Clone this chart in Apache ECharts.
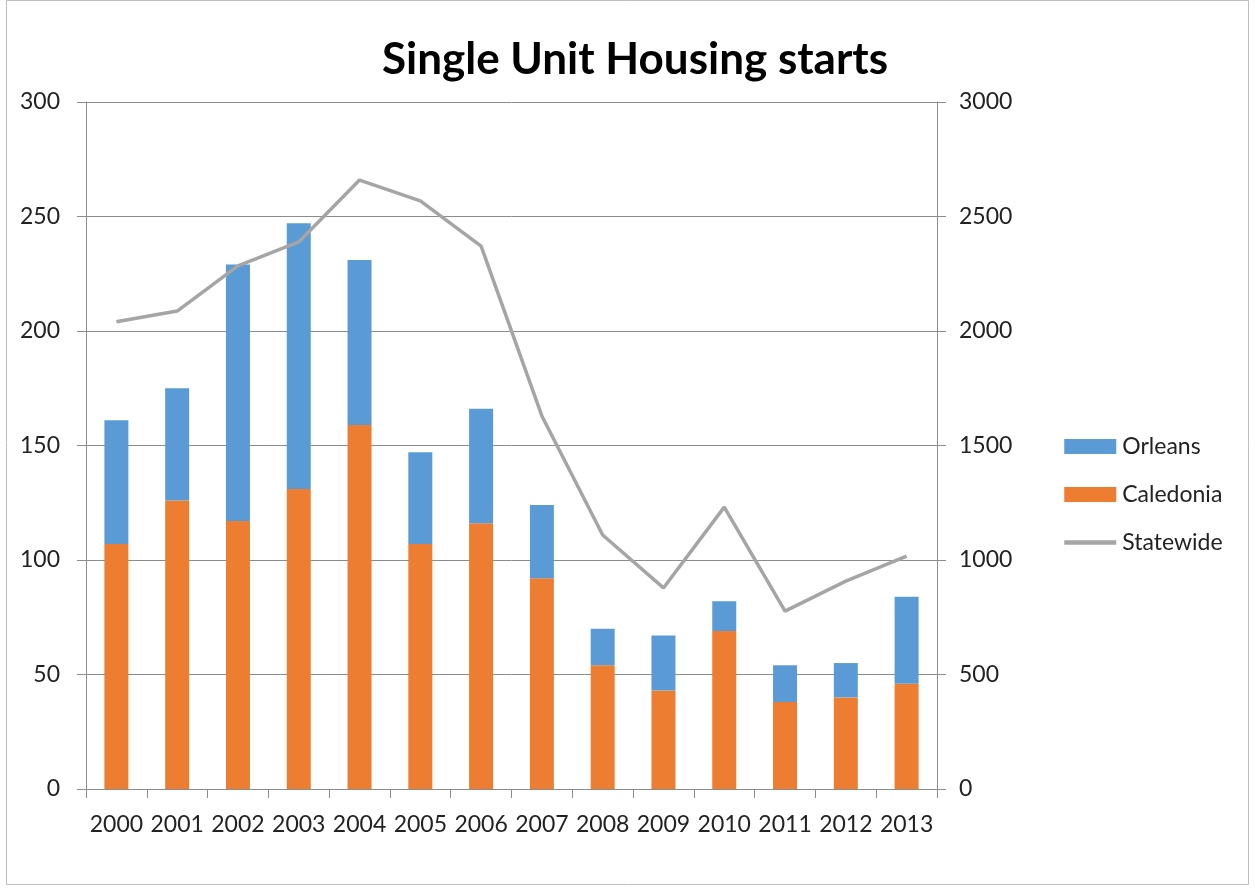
<!DOCTYPE html>
<html>
<head>
<meta charset="utf-8">
<script src="https://cdn.jsdelivr.net/npm/echarts@6/dist/echarts.min.js"></script>
<style>
  html, body { margin: 0; padding: 0; background: #fff; }
  #chart { width: 1255px; height: 892px; }
</style>
</head>
<body>
<div id="chart"></div>
<script>
const years = ['2000', '2001', '2002', '2003', '2004', '2005', '2006', '2007', '2008', '2009', '2010', '2011', '2012', '2013']
const caledonia = [107, 126, 117, 131, 159, 107, 116, 92, 54, 43, 69, 38, 40, 46]
const orleans = [54, 49, 112, 116, 72, 40, 50, 32, 16, 24, 13, 16, 15, 38]
const statewide = [2040, 2087, 2284, 2389, 2659, 2568, 2371, 1629, 1109, 878, 1231, 777, 908, 1017]

const FONT = 'Lato, "Open Sans", sans-serif'
const GRID_COLOR = '#8c8c8c'
const LABEL_SIZE = 23

const chart = echarts.init(document.getElementById('chart'))

chart.setOption({
  animation: false,
  title: {
    text: 'Single Unit Housing starts',
    left: 630,
    textAlign: 'center',
    top: 33,
    textStyle: { fontFamily: FONT, fontSize: 44, fontWeight: 'bold', color: '#000' }
  },
  graphic: [{
    type: 'rect',
    shape: { x: 6.5, y: 0.5, width: 1242, height: 884 },
    style: { fill: 'none', stroke: '#bdbdbd', lineWidth: 1 },
    silent: true
  }],
  grid: { left: 86, right: 318, top: 102, bottom: 103 },
  legend: {
    orient: 'vertical',
    left: 1062,
    top: 435,
    padding: 0,
    itemWidth: 52,
    itemHeight: 15,
    itemGap: 25,
    textStyle: { fontFamily: FONT, fontSize: LABEL_SIZE, color: '#222', padding: [0, 0, 0, 1] },
    data: [
      { name: 'Orleans', icon: 'rect' },
      { name: 'Caledonia', icon: 'rect' },
      { name: 'Statewide', itemStyle: { opacity: 0 }, lineStyle: { width: 4.5 } }
    ]
  },
  xAxis: {
    type: 'category',
    data: years,
    axisLine: { lineStyle: { color: GRID_COLOR } },
    axisTick: { show: true, length: 9, lineStyle: { color: GRID_COLOR } },
    axisLabel: { interval: 0, fontFamily: FONT, fontSize: LABEL_SIZE, color: '#222', margin: 24 }
  },
  yAxis: [{
    type: 'value',
    min: 0,
    max: 300,
    interval: 50,
    axisLine: { show: true, lineStyle: { color: GRID_COLOR } },
    axisTick: { show: true, length: 9, lineStyle: { color: GRID_COLOR } },
    splitLine: { lineStyle: { color: GRID_COLOR } },
    axisLabel: { fontFamily: FONT, fontSize: LABEL_SIZE, color: '#222', margin: 26 }
  }, {
    type: 'value',
    min: 0,
    max: 3000,
    interval: 500,
    axisLine: { show: true, lineStyle: { color: GRID_COLOR } },
    axisTick: { show: true, length: 9, lineStyle: { color: GRID_COLOR } },
    splitLine: { show: false },
    axisLabel: {
      fontFamily: FONT,
      fontSize: LABEL_SIZE,
      color: '#222',
      margin: 22,
      formatter: (value) => String(value)
    }
  }],
  series: [{
    name: 'Caledonia',
    type: 'bar',
    stack: 'towns',
    barWidth: 24,
    itemStyle: { color: '#ed7d31' },
    data: caledonia
  }, {
    name: 'Orleans',
    type: 'bar',
    stack: 'towns',
    barWidth: 24,
    itemStyle: { color: '#5b9bd5' },
    data: orleans
  }, {
    name: 'Statewide',
    type: 'line',
    yAxisIndex: 1,
    symbol: 'none',
    lineStyle: { color: '#a5a5a5', width: 3.5 },
    itemStyle: { color: '#a5a5a5' },
    data: statewide
  }]
})
</script>
</body>
</html>
